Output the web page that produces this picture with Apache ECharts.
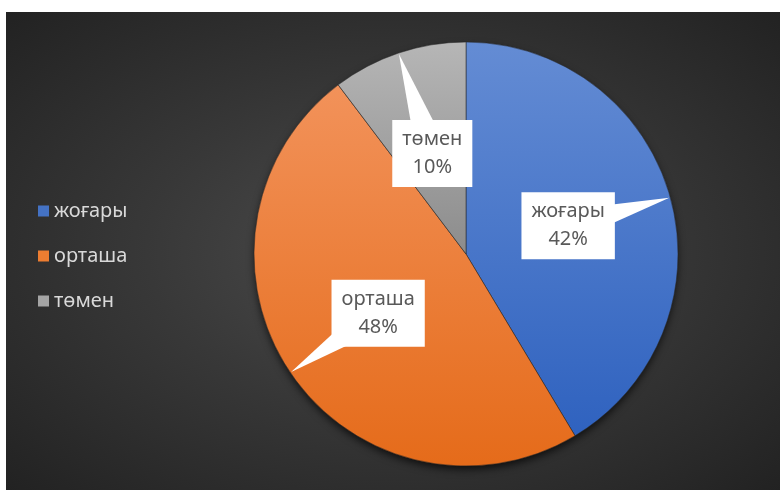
<!DOCTYPE html>
<html>
<head>
<meta charset="utf-8">
<script src="https://cdn.jsdelivr.net/npm/echarts@6/dist/echarts.min.js"></script>
<style>
  html, body { margin: 0; padding: 0; background: #fff; }
  #chart {
    position: absolute; left: 6px; top: 12px; width: 774px; height: 478px;
    background: radial-gradient(ellipse at 50% 50%, #4c4c4c 0%, #383838 45%, #222 100%);
  }
</style>
</head>
<body>
<div id="chart"></div>
<script>
// деңгейлер мен үлестері (slice sizes, percent labels as printed)
var categories = ['жоғары', 'орташа', 'төмен'];
var values = [41.4, 48.3, 10.3];
var percentLabels = ['42%', '48%', '10%'];
var flatColors = ['#4472c4', '#ed7d31', '#a5a5a5'];
var topColors = ['#648cd4', '#f2925a', '#b6b6b6'];
var bottomColors = ['#2f62bf', '#e56b1a', '#8c8c8c'];

var CX = 460, CY = 242, R = 212;

var chart = echarts.init(document.getElementById('chart'));

function grad(i) {
  return new echarts.graphic.LinearGradient(0, 0, 0, 1, [
    { offset: 0, color: topColors[i] },
    { offset: 1, color: bottomColors[i] }
  ]);
}

var total = values.reduce(function (a, b) { return a + b; }, 0);

var pieData = categories.map(function (name, i) {
  return { name: name, value: values[i], itemStyle: { color: grad(i) } };
});
var shadowData = categories.map(function (name, i) {
  return { name: name, value: values[i] };
});

// callout boxes: box at half radius on the slice's middle angle, white wedge to the rim
function renderCallout(params, api) {
  var i = params.dataIndex;
  var before = 0;
  for (var k = 0; k < i; k++) before += values[k];
  var mid = (before + api.value(1) / 2) / total * Math.PI * 2;
  var ux = Math.sin(mid), uy = -Math.cos(mid);
  var ex = CX + ux * (R - 1), ey = CY + uy * (R - 1);
  var bx = CX + ux * R / 2, by = CY + uy * R / 2;
  var nx = -uy, ny = ux, w = 16;
  return {
    type: 'group',
    children: [
      {
        type: 'polygon',
        shape: { points: [[ex, ey], [bx + nx * w, by + ny * w], [bx - nx * w, by - ny * w]] },
        style: { fill: '#fff' }
      },
      {
        type: 'text',
        x: bx,
        y: by,
        style: {
          text: categories[i] + '\n' + percentLabels[i],
          align: 'center',
          verticalAlign: 'middle',
          fill: '#595959',
          fontFamily: 'Noto Sans',
          fontSize: 20,
          lineHeight: 28,
          backgroundColor: '#fff',
          padding: [6, 10, 5, 10]
        }
      }
    ]
  };
}

chart.setOption({
  textStyle: { fontFamily: 'Noto Sans' },
  legend: {
    orient: 'vertical',
    left: 27,
    top: 183,
    itemWidth: 11,
    itemHeight: 11,
    itemGap: 23,
    icon: 'rect',
    selectedMode: false,
    textStyle: { color: '#d9d9d9', fontSize: 20, lineHeight: 22 },
    data: categories.map(function (name, i) {
      return { name: name, itemStyle: { color: flatColors[i] } };
    })
  },
  series: [
    {
      name: 'shadow',
      type: 'pie',
      center: [CX, CY],
      radius: R - 1,
      silent: true,
      z: 1,
      label: { show: false },
      labelLine: { show: false },
      itemStyle: {
        color: '#111',
        shadowColor: 'rgba(0,0,0,0.75)',
        shadowBlur: 9,
        shadowOffsetY: 4
      },
      data: shadowData
    },
    {
      name: 'деңгей',
      type: 'pie',
      center: [CX, CY],
      radius: R,
      z: 2,
      avoidLabelOverlap: false,
      itemStyle: { borderColor: 'rgba(40,40,40,0.5)', borderWidth: 0.6 },
      label: { show: false },
      labelLine: { show: false },
      emphasis: { disabled: true },
      data: pieData
    },
    {
      name: 'callouts',
      type: 'custom',
      coordinateSystem: 'none',
      silent: true,
      z: 3,
      renderItem: renderCallout,
      data: values.map(function (v, i) { return [i, v]; })
    }
  ]
});
</script>
</body>
</html>
